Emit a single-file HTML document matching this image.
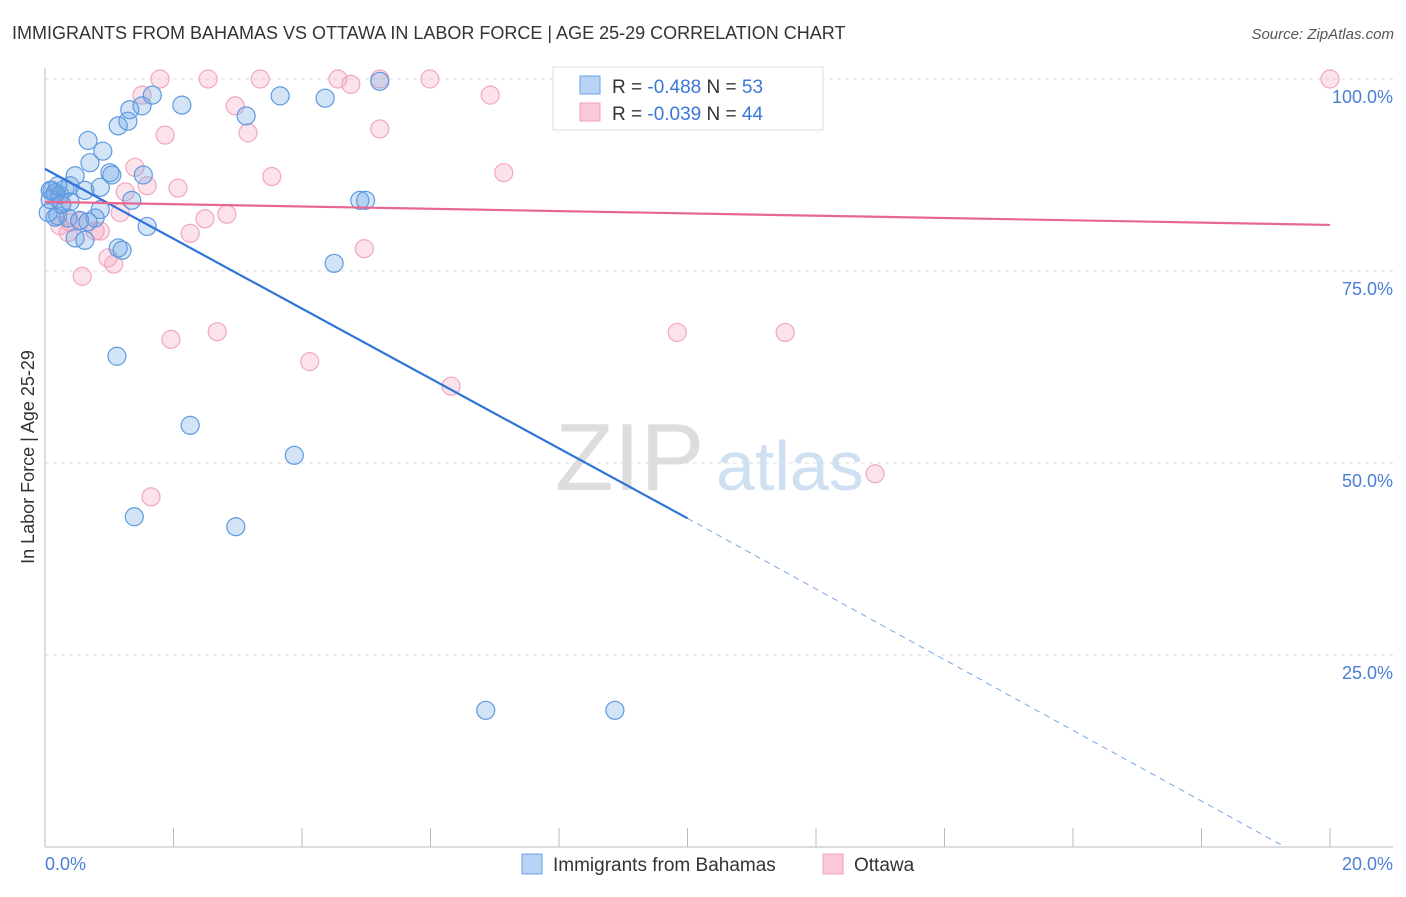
<!DOCTYPE html>
<html><head><meta charset="utf-8"><style>
body{margin:0;background:#fff;font-family:"Liberation Sans",sans-serif;}
svg text{font-family:"Liberation Sans",sans-serif;}
</style></head><body>
<svg width="1406" height="892" viewBox="0 0 1406 892">
<text x="12" y="39" font-size="18" fill="#333">IMMIGRANTS FROM BAHAMAS VS OTTAWA IN LABOR FORCE | AGE 25-29 CORRELATION CHART</text>
<text x="1394" y="39" font-size="15" fill="#555" font-style="italic" text-anchor="end">Source: ZipAtlas.com</text>
<g id="grid"></g>
<line x1="45" y1="68" x2="45" y2="847" stroke="#bbb"/>
<line x1="45" y1="847" x2="1393" y2="847" stroke="#bbb"/>
<text x="555" y="490" font-size="96" fill="#ddd" font-family="Liberation Serif">ZIP</text>
<text x="716" y="490" font-size="70" fill="#cfe0f3">atlas</text>
<g id="ticks"></g>
<g id="pts"></g>
<g id="lines"></g>
<text transform="translate(34,457) rotate(-90)" font-size="18" fill="#333" text-anchor="middle">In Labor Force | Age 25-29</text>
<text x="45" y="870" font-size="18" fill="#4a7fd4">0.0%</text>
<text x="1393" y="870" font-size="18" fill="#4a7fd4" text-anchor="end">20.0%</text>
<g>
<rect x="553" y="67" width="270" height="63" fill="#fff" stroke="#ddd"/>
<rect x="580" y="76" width="20" height="18" fill="#b8d3f5" stroke="#6aa0e0"/>
<rect x="580" y="103" width="20" height="18" fill="#fbc8d8" stroke="#f0a0b8"/>
<text x="612" y="93" font-size="19" fill="#333">R = <tspan fill="#3a78d8">-0.488</tspan>   N = <tspan fill="#3a78d8">53</tspan></text>
<text x="612" y="120" font-size="19" fill="#333">R = <tspan fill="#3a78d8">-0.039</tspan>   N = <tspan fill="#3a78d8">44</tspan></text>
</g>
<g>
<rect x="522" y="854" width="20" height="20" fill="#b8d3f5" stroke="#6aa0e0"/>
<text x="553" y="871" font-size="19" fill="#333">Immigrants from Bahamas</text>
<rect x="823" y="854" width="20" height="20" fill="#fbc8d8" stroke="#f0a0b8"/>
<text x="854" y="871" font-size="19" fill="#333">Ottawa</text>
</g>
</svg>
<script>
const yTicks=[25,50,75,100];
const yTickLabels=["25.0%","50.0%","75.0%","100.0%"];
const xTicks=[0,2,4,6,8,10,12,14,16,18,20];
const bahamasX=[0.11,0.16,0.23,0.08,0.31,0.39,0.47,0.62,0.70,0.67,0.90,1.14,1.29,1.32,1.51,1.67,2.13,3.66,4.36,5.21,3.13,1.01,1.04,1.53,0.86,1.35,0.20,0.36,0.54,0.78,0.86,0.47,0.62,1.14,1.20,1.59,4.50,4.90,4.99,1.12,2.26,3.88,1.39,2.97,6.86,8.87,0.08,0.26,0.39,0.67,0.20,0.16,0.05];
const bahamasY=[85.5,85.2,84.9,84.3,85.7,86.1,87.4,85.5,89.1,92.0,90.6,93.9,94.5,96.0,96.5,97.9,96.6,97.8,97.5,99.7,95.2,87.8,87.5,87.5,85.9,84.2,82.2,81.9,81.6,81.9,83.0,79.3,79.0,78.0,77.7,80.8,76.0,84.2,84.2,63.9,54.9,51.0,43.0,41.7,17.8,17.8,85.5,83.7,84.0,81.4,86.1,82.0,82.6];
const ottawaX=[1.79,2.54,3.35,4.56,4.76,5.21,5.99,20.0,1.51,2.96,6.93,1.87,3.16,5.21,3.53,7.14,1.40,1.59,2.07,1.25,2.49,2.83,2.26,1.17,0.23,0.36,0.78,0.86,0.98,1.07,0.58,4.97,1.96,2.68,4.12,6.32,9.84,11.52,12.92,1.65,0.26,0.16,0.54,0.39];
const ottawaY=[100,100,100,100,99.3,100,100,100,97.9,96.5,97.9,92.7,93.0,93.5,87.3,87.8,88.5,86.1,85.8,85.3,81.8,82.4,79.9,82.6,80.9,80.0,80.2,80.2,76.7,75.9,74.3,77.9,66.1,67.1,63.2,60.0,67.0,67.0,48.6,45.6,83.6,84.9,81.5,81.3];
const bahamasLine=[[0,88.3],[10,42.8]];
const bahamasDash=[[10,42.8],[19.3,0]];
const ottawaLine=[[0,84.0],[20,81.0]];
const X=v=>45+v*64.25, Y=v=>847-v*7.68;
const NS="http://www.w3.org/2000/svg";
function mk(t,a,p){const e=document.createElementNS(NS,t);for(const k in a)e.setAttribute(k,a[k]);p.appendChild(e);return e;}
const grid=document.getElementById('grid');
yTicks.forEach((t,i)=>{
 const l=mk('line',{x1:45,x2:1393,y1:Y(t),y2:Y(t),stroke:'#ddd','stroke-dasharray':'4,4'},grid);
 
 
 const tx=mk('text',{x:1393,y:Y(t)+24,'font-size':18,fill:'#4a7fd4','text-anchor':'end'},grid);
 tx.textContent=yTickLabels[i];
 
 
});
const ticks=document.getElementById('ticks');
xTicks.forEach(t=>{
 const l=mk('line',{x1:X(t),x2:X(t),y1:828,y2:847,stroke:'#bbb'},ticks);
 
 
});
const pts=document.getElementById('pts');
function series(xs,ys,fill,stroke,name){
 xs.forEach((x,i)=>{
  const c=mk('circle',{cx:X(x),cy:Y(ys[i]),r:9,fill:fill,stroke:stroke,'stroke-width':1.2},pts);
  
  
 });
}
series(ottawaX,ottawaY,'rgba(245,160,190,0.3)','#f2a6bf','point-ottawa');
series(bahamasX,bahamasY,'rgba(110,165,230,0.3)','#5d9ae0','point-bahamas');
const lines=document.getElementById('lines');
function ln(p,st,w,dash,name){
 const a={x1:X(p[0][0]),y1:Y(p[0][1]),x2:X(p[1][0]),y2:Y(p[1][1]),stroke:st,'stroke-width':w};
 if(dash)a['stroke-dasharray']=dash;
 const e=mk('line',a,lines);
 
 
}
ln(bahamasLine,'#2f74d8',2.2,null,'trend-bahamas');
ln(bahamasDash,'#7aa6e0',1,'6,5','trend-bahamas-extension');
ln(ottawaLine,'#e8668f',2.2,null,'trend-ottawa');
</script>
</body></html>
